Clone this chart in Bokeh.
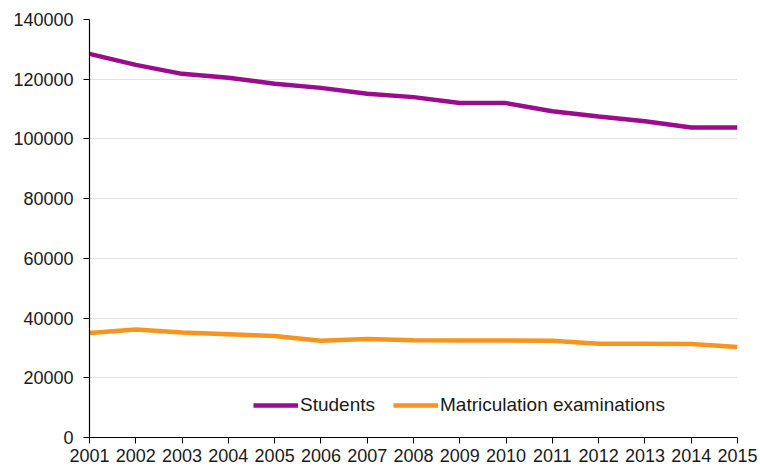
from bokeh.plotting import figure
from bokeh.models import FixedTicker, NumeralTickFormatter, Legend, LegendItem, Range1d
from bokeh.embed import file_html
from bokeh.resources import INLINE

years = list(range(2001, 2016))
students = [128500, 124800, 121800, 120500, 118500, 117100, 115100, 114000,
            112000, 112000, 109300, 107500, 105900, 103800, 103800]
matriculation = [35000, 36200, 35200, 34600, 34000, 32400, 33000, 32600,
                 32500, 32500, 32400, 31400, 31400, 31300, 30300]
y_ticks = [0, 20000, 40000, 60000, 80000, 100000, 120000, 140000]

FONT = "Liberation Sans"

p = figure(width=760, height=469, output_backend="svg", toolbar_location=None,
           x_range=Range1d(2001, 2015), y_range=Range1d(0, 140000),
           min_border_left=89, min_border_right=23, min_border_top=19, min_border_bottom=32)
p.outline_line_color = None
p.background_fill_color = "white"

r1 = p.line(years, students, line_color="#9b0b8d", line_width=4.5)
r2 = p.line(years, matriculation, line_color="#f7941d", line_width=4.5)

for ax in (p.xaxis[0], p.yaxis[0]):
    ax.axis_line_color = "black"
    ax.axis_line_width = 1.2
    ax.major_tick_line_color = "black"
    ax.major_tick_in = 0
    ax.major_tick_out = 6
    ax.minor_tick_line_color = None
    ax.major_label_text_font = FONT
    ax.major_label_text_font_size = "18px"
    ax.major_label_text_color = "#1a1a1a"

p.xaxis[0].ticker = FixedTicker(ticks=years)
p.xaxis[0].major_label_standoff = 5
p.yaxis[0].ticker = FixedTicker(ticks=y_ticks)
p.yaxis[0].formatter = NumeralTickFormatter(format="0")
p.yaxis[0].major_label_standoff = 10

p.xgrid.grid_line_color = None
p.ygrid.grid_line_color = "#c4c4c4"
p.ygrid.grid_line_dash = "1 1"
p.ygrid.grid_line_width = 1

legend = Legend(items=[LegendItem(label="Students", renderers=[r1]),
                       LegendItem(label="Matriculation examinations", renderers=[r2])],
                orientation="horizontal", location=(164, 21),
                padding=0, margin=0, spacing=18, glyph_width=45, glyph_height=16,
                label_standoff=2, border_line_color=None, background_fill_alpha=0,
                label_text_font=FONT, label_text_font_size="19px", label_text_color="#1a1a1a")
p.add_layout(legend)

open("out.html", "w").write(file_html(p, INLINE))
